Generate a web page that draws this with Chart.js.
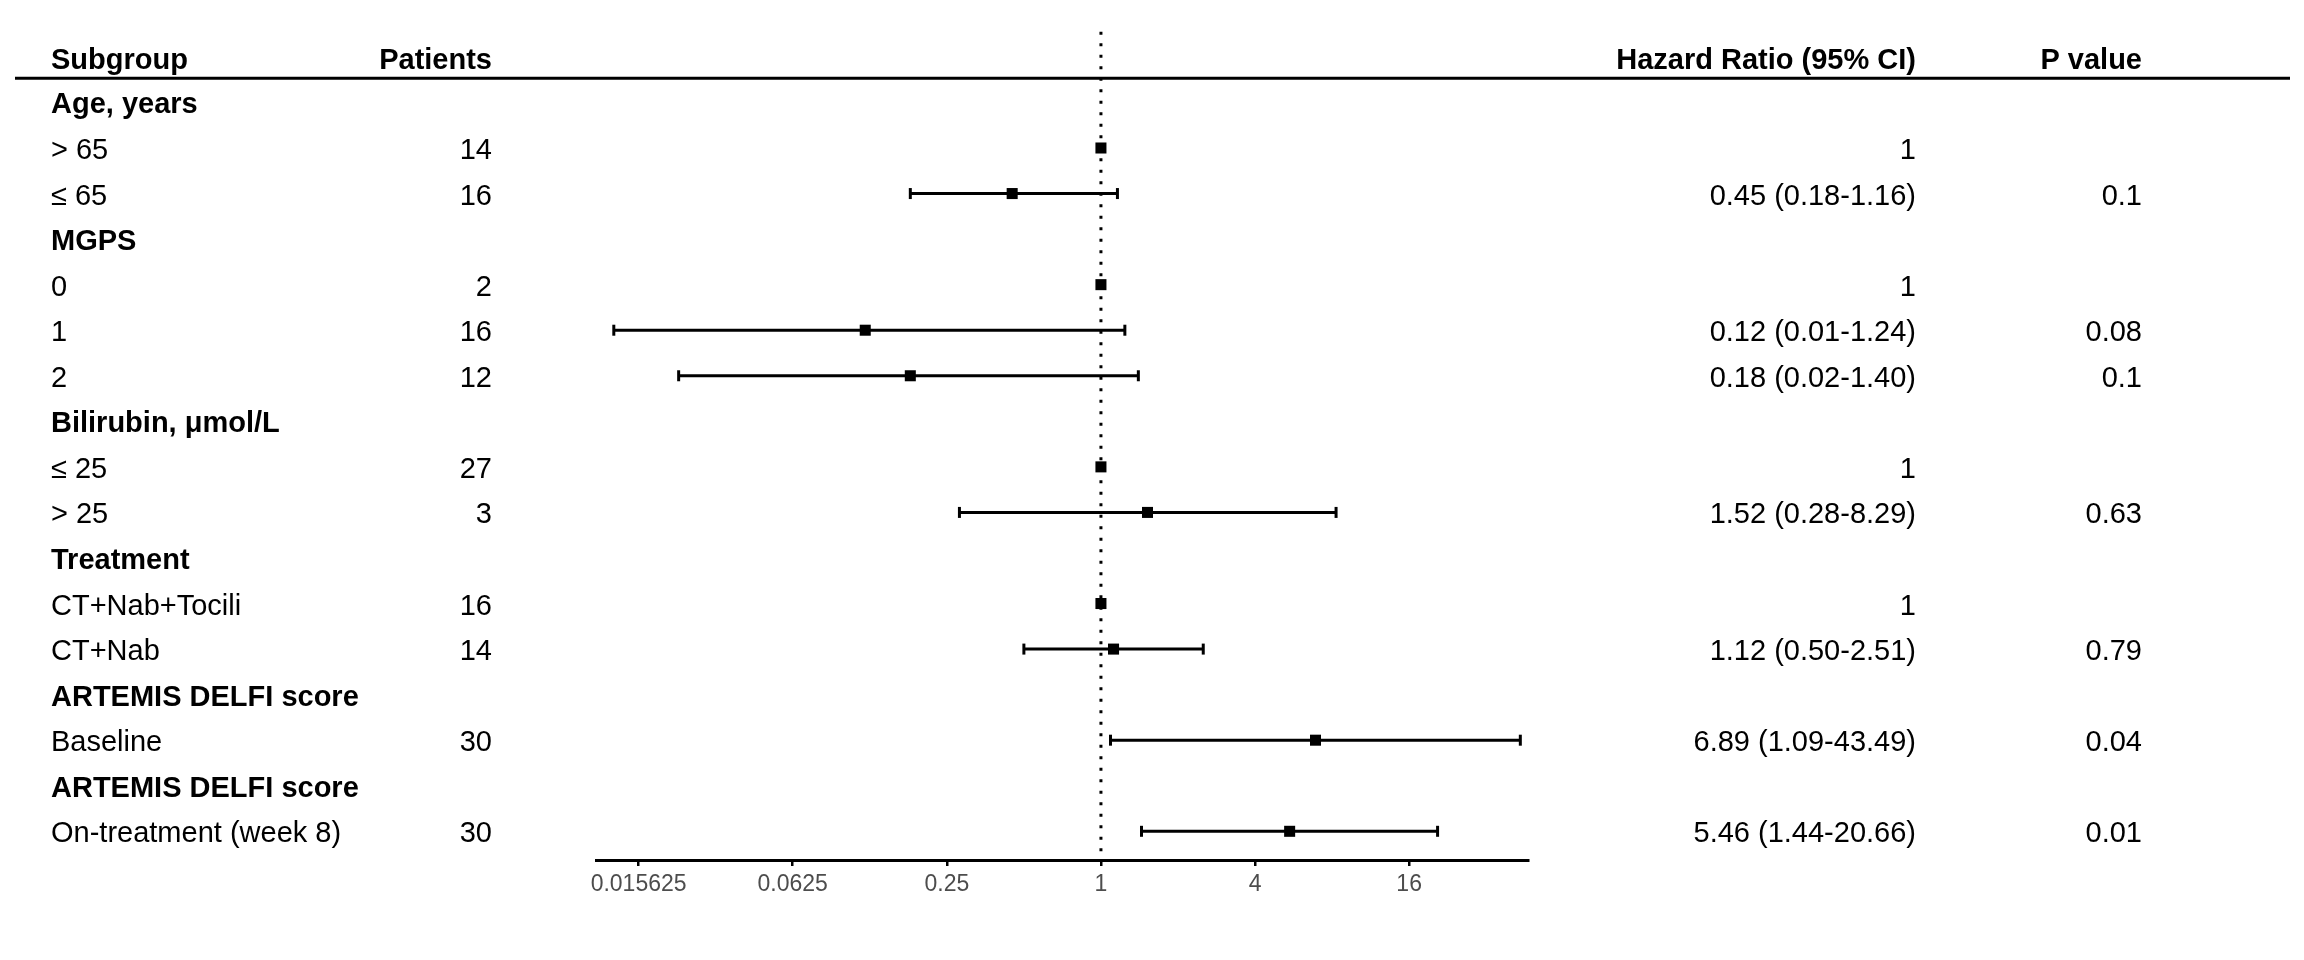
<!DOCTYPE html>
<html>
<head>
<meta charset="utf-8">
<script src="https://cdn.jsdelivr.net/npm/chart.js@4.4.0/dist/chart.umd.min.js"></script>
<style>
  html, body { margin: 0; padding: 0; background: #fff; }
</style>
</head>
<body>
<canvas id="forestChart" width="2304" height="960"></canvas>
<script>
// rows, top to bottom
const subgroups = ['Age, years', '> 65', '≤ 65', 'MGPS', '0', '1', '2', 'Bilirubin, μmol/L', '≤ 25', '> 25',
  'Treatment', 'CT+Nab+Tocili', 'CT+Nab', 'ARTEMIS DELFI score', 'Baseline', 'ARTEMIS DELFI score', 'On-treatment (week 8)'];
const isGroupRow = [true, false, false, true, false, false, false, true, false, false,
  true, false, false, true, false, true, false];
const patients = [null, 14, 16, null, 2, 16, 12, null, 27, 3, null, 16, 14, null, 30, null, 30];
const hazardRatio = [null, 1, 0.45, null, 1, 0.12, 0.18, null, 1, 1.52, null, 1, 1.12, null, 6.89, null, 5.46];
const ciLower = [null, null, 0.18, null, null, 0.0125, 0.0224, null, null, 0.28, null, null, 0.50, null, 1.09, null, 1.44];
const ciUpper = [null, null, 1.16, null, null, 1.24, 1.40, null, null, 8.29, null, null, 2.51, null, 43.49, null, 20.66];
const hrLabels = ['', '1', '0.45 (0.18-1.16)', '', '1', '0.12 (0.01-1.24)', '0.18 (0.02-1.40)', '', '1', '1.52 (0.28-8.29)',
  '', '1', '1.12 (0.50-2.51)', '', '6.89 (1.09-43.49)', '', '5.46 (1.44-20.66)'];
const pValues = ['', '', '0.1', '', '', '0.08', '0.1', '', '', '0.63', '', '', '0.79', '', '0.04', '', '0.01'];
const xTicks = [0.015625, 0.0625, 0.25, 1, 4, 16];

const FONT = "'Liberation Sans', Arial, Helvetica, sans-serif";

const datasets = [];

// squares for hazard ratios
datasets.push({
  label: 'HR',
  data: hazardRatio.map((v, i) => v == null ? null : { x: v, y: i }).filter(p => p),
  pointStyle: 'rect',
  pointRadius: 7.8,
  backgroundColor: '#000',
  borderColor: '#000',
  borderWidth: 0,
  showLine: false,
  order: 0
});

// confidence intervals with end caps
hazardRatio.forEach((v, i) => {
  if (ciLower[i] == null) return;
  datasets.push({
    label: 'CI ' + i,
    data: [{ x: ciLower[i], y: i }, { x: ciUpper[i], y: i }],
    showLine: true,
    borderColor: '#000',
    borderWidth: 3,
    pointStyle: 'line',
    pointRotation: 90,
    pointRadius: 5.5,
    pointBorderWidth: 3,
    pointBorderColor: '#000',
    order: 1
  });
});

// dotted line at HR = 1
datasets.push({
  label: 'ref',
  data: [{ x: 1, y: -1.55 }, { x: 1, y: 16.63 }],
  showLine: true,
  borderColor: '#000',
  borderWidth: 3,
  borderDash: [3, 8.5],
  pointRadius: 0,
  order: 2
});

const tablePlugin = {
  id: 'tablePlugin',
  afterDraw(chart) {
    const c = chart.ctx;
    const y = chart.scales.y;
    const dy = 3; // nudge text to sit like the original
    c.save();
    c.fillStyle = '#000';
    c.textBaseline = 'middle';

    // header
    const hy = y.getPixelForValue(-0.97) + dy;
    c.font = 'bold 29px ' + FONT;
    c.textAlign = 'left';
    c.fillText('Subgroup', 51, hy);
    c.textAlign = 'right';
    c.fillText('Patients', 492, hy);
    c.fillText('Hazard Ratio (95% CI)', 1916, hy);
    c.fillText('P value', 2142, hy);

    const ly = y.getPixelForValue(-0.53);
    c.strokeStyle = '#000';
    c.lineWidth = 3;
    c.beginPath();
    c.moveTo(15, ly);
    c.lineTo(2290, ly);
    c.stroke();

    subgroups.forEach((name, i) => {
      const ry = y.getPixelForValue(i) + dy;
      c.font = (isGroupRow[i] ? 'bold ' : '') + '29px ' + FONT;
      c.textAlign = 'left';
      c.fillText(name, 51, ry);
      c.font = '29px ' + FONT;
      c.textAlign = 'right';
      if (patients[i] != null) c.fillText(String(patients[i]), 492, ry);
      if (hrLabels[i]) c.fillText(hrLabels[i], 1916, ry);
      if (pValues[i]) c.fillText(pValues[i], 2142, ry);
    });
    c.restore();
  }
};

new Chart(document.getElementById('forestChart'), {
  type: 'scatter',
  data: { datasets: datasets },
  options: {
    responsive: false,
    animation: false,
    layout: { padding: { left: 596, right: 776, top: 25, bottom: 0 } },
    plugins: { legend: { display: false }, tooltip: { enabled: false } },
    scales: {
      x: {
        type: 'logarithmic',
        min: 0.01065,
        max: 46.6,
        afterBuildTicks: scale => { scale.ticks = xTicks.map(v => ({ value: v })); },
        afterFit: scale => { scale.height = 100; },
        ticks: {
          callback: v => String(v),
          color: '#4d4d4d',
          font: { family: FONT, size: 23 },
          padding: 5,
          maxRotation: 0,
          autoSkip: false
        },
        grid: { drawOnChartArea: false, drawTicks: true, tickLength: 6, color: '#000', lineWidth: 2.5 },
        border: { display: true, color: '#000', width: 3 }
      },
      y: {
        type: 'linear',
        reverse: true,
        min: -1.7,
        max: 16.63,
        display: false
      }
    }
  },
  plugins: [tablePlugin]
});
</script>
</body>
</html>
